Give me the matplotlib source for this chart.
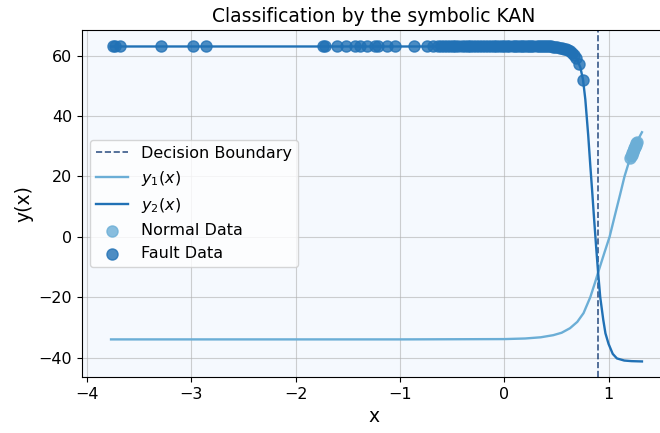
import matplotlib
matplotlib.use("Agg")
import matplotlib.pyplot as plt

# symbolic curves
y1_x = [-3.77, -3.0, -2.0, -1.0, 0.0, 0.2, 0.35, 0.47, 0.55, 0.63, 0.70, 0.76,
        0.825, 0.87, 0.90, 0.96, 1.01, 1.06, 1.11, 1.153, 1.20, 1.24, 1.28, 1.32]
y1_y = [-34.0, -34.0, -34.0, -34.0, -33.9, -33.7, -33.3, -32.6, -31.8, -30.3, -28.2, -25.3,
        -20.0, -15.2, -11.8, -5.3, 0.0, 7.0, 13.9, 20.0, 25.3, 29.0, 32.0, 34.6]

y2_x = [-3.77, -3.0, -2.0, -1.0, 0.0, 0.3, 0.45, 0.5, 0.55, 0.6, 0.65, 0.70, 0.73,
        0.755, 0.777, 0.805, 0.825, 0.845, 0.86, 0.88, 0.90, 0.92, 0.949, 0.97,
        1.0, 1.04, 1.08, 1.15, 1.22, 1.32]
y2_y = [63.0, 63.0, 63.0, 63.0, 63.0, 63.0, 63.0, 62.9, 62.5, 62.1, 61.0, 58.6, 56.0,
        52.0, 45.5, 33.5, 23.5, 14.0, 6.5, -3.0, -12.0, -20.0, -27.5, -32.0,
        -35.5, -38.8, -40.3, -41.0, -41.2, -41.3]

# data points
normal_x = [1.21, 1.215, 1.22, 1.225, 1.23, 1.235, 1.24, 1.245, 1.25, 1.255, 1.26, 1.265, 1.27]
normal_y = [26.2, 26.7, 27.1, 27.6, 28.1, 28.5, 29.0, 29.4, 29.8, 30.2, 30.5, 30.9, 31.3]

fault_x = [-3.75, -3.73, -3.68, -3.29, -2.98, -2.86, -1.74, -1.72,
           -1.60, -1.52, -1.43, -1.38, -1.32, -1.24, -1.21, -1.12,
           -1.05, -0.87, -0.74, -0.68, -0.64, -0.61, -0.58, -0.55,
           -0.52, -0.49, -0.47, -0.44, -0.41, -0.38, -0.35, -0.33,
           -0.30, -0.27, -0.24, -0.21, -0.18, -0.16, -0.13, -0.10,
           -0.08, -0.05, -0.02, 0.00, 0.03, 0.05, 0.08, 0.10,
           0.12, 0.15, 0.17, 0.19, 0.22, 0.24, 0.26, 0.28,
           0.31, 0.33, 0.35, 0.37, 0.39, 0.41, 0.43, 0.45,
           0.47, 0.49, 0.51, 0.53, 0.55, 0.57, 0.59, 0.61,
           0.63, 0.65, 0.67, 0.69, 0.713, 0.755]
fault_y = [63.0, 63.0, 63.0, 63.0, 63.0, 63.0, 63.0, 63.0,
           63.0, 63.0, 63.0, 63.0, 63.0, 63.0, 63.0, 63.0,
           63.0, 63.0, 63.0, 63.0, 63.0, 63.0, 63.0, 63.0,
           63.0, 63.0, 63.0, 63.0, 63.0, 63.0, 63.0, 63.0,
           63.0, 63.0, 63.0, 63.0, 63.0, 63.0, 63.0, 63.0,
           63.0, 63.0, 63.0, 63.0, 63.0, 63.0, 63.0, 63.0,
           63.0, 63.0, 63.0, 63.0, 63.0, 63.0, 63.0, 63.0,
           63.0, 63.0, 63.0, 63.0, 63.0, 63.0, 63.0, 63.0,
           62.9, 62.8, 62.7, 62.6, 62.5, 62.3, 62.1, 61.8,
           61.4, 61.0, 60.3, 59.3, 57.2, 52.0]

boundary_x = 0.90

fig = plt.figure(figsize=(6.6, 4.33), dpi=100)
# axes run past the right edge like in the reference crop
ax = fig.add_axes([0.124, 0.129, 0.885, 0.802])
ax.set_facecolor("#f5f9fe")

ax.axvline(boundary_x, color="#08306b", linestyle="--", linewidth=1.2, alpha=0.8,
           label="Decision Boundary")
ax.plot(y1_x, y1_y, color="#6baed6", linewidth=1.7, label="$y_1(x)$")
ax.plot(y2_x, y2_y, color="#2171b5", linewidth=1.7, label="$y_2(x)$")
ax.scatter(normal_x, normal_y, color="#6baed6", s=64, alpha=0.8, label="Normal Data", zorder=3)
ax.scatter(fault_x, fault_y, color="#2171b5", s=64, alpha=0.8, label="Fault Data", zorder=3)

ax.set_xlim(-4.05, 1.55)
ax.set_ylim(-46.5, 68.5)
ax.grid(True, color="#b0b0b0", alpha=0.6, linewidth=0.8)
ax.set_axisbelow(True)

ax.set_title("Classification by the symbolic KAN", fontsize=13.5)
ax.set_xlabel("x", fontsize=13.5)
ax.set_ylabel("y(x)", fontsize=13.5)
ax.tick_params(labelsize=11.5)
ax.legend(loc="center left", fontsize=11.5)

fig.savefig("out.png", dpi=100)
